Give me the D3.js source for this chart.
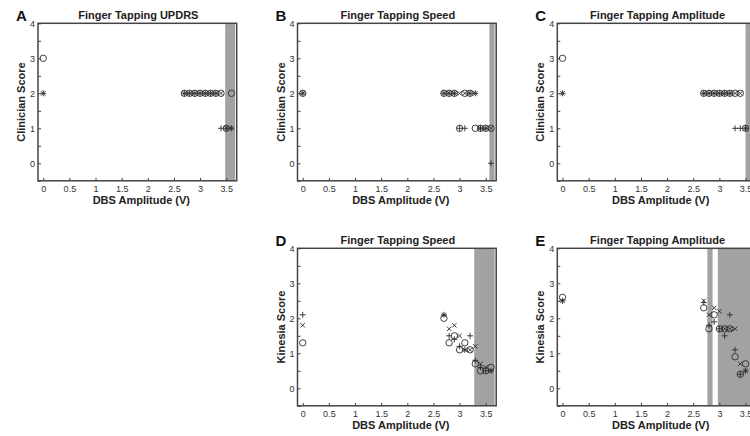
<!DOCTYPE html>
<html>
<head>
<meta charset="utf-8">
<script src="https://cdn.jsdelivr.net/npm/d3@7"></script>
<style>
  body { margin: 0; background: #fff; }
  svg { font-family: "Liberation Sans", Arial, sans-serif; }
</style>
</head>
<body>
<div id="chart"></div>
<script>
var svgWidth = 750;
var svgHeight = 436;

// DBS amplitudes tested (V)
var amps = [0, 2.7, 2.8, 2.9, 3.0, 3.1, 3.2, 3.3, 3.4, 3.5, 3.6];
var ampsClipped = [0, 2.7, 2.8, 2.9, 3.0, 3.1, 3.2, 3.3, 3.4, 3.5];

// A - clinician, finger tapping UPDRS
var updrsCircle = [3, 2, 2, 2, 2, 2, 2, 2, 2, 1, 2];
var updrsPlus   = [2, 2, 2, 2, 2, 2, 2, 2, 1, 1, 1];
var updrsCross  = [2, 2, 2, 2, 2, 2, 2, 2, 2, 1, 1];

// B - clinician, finger tapping speed
var clinSpeedCircle = [2, 2, 2, 2, 1, 2, 2, 1, 1, 1, 1];
var clinSpeedPlus   = [2, 2, 2, 2, 1, 1, 2, 2, 1, 1, 0];
var clinSpeedCross  = [2, 2, 2, 2, 2, 2, 2, 2, 1, 1, 1];

// C - clinician, finger tapping amplitude
var clinAmpCircle = [3, 2, 2, 2, 2, 2, 2, 2, 2, 1];
var clinAmpPlus   = [2, 2, 2, 2, 2, 2, 2, 1, 1, 1];
var clinAmpCross  = [2, 2, 2, 2, 2, 2, 2, 2, 2, 1];

// D - kinesia, finger tapping speed
var kinSpeedCircle = [1.3, 2.0, 1.3, 1.5, 1.1, 1.3, 1.1, 0.7, 0.5, 0.5, 0.6];
var kinSpeedPlus   = [2.1, 2.1, 1.5, 1.4, 1.2, 1.1, 1.5, 0.8, 0.6, 0.5, 0.5];
var kinSpeedCross  = [1.8, 2.1, 1.7, 1.8, 1.5, 1.1, 1.1, 1.2, 0.7, 0.6, 0.5];

// E - kinesia, finger tapping amplitude
var kinAmpCircle = [2.6, 2.3, 1.7, 2.1, 1.7, 1.7, 1.7, 0.9, 0.4, 0.7];
var kinAmpPlus   = [2.5, 2.45, 1.8, 1.9, 1.7, 1.5, 2.1, 1.1, 0.4, 0.5];
var kinAmpCross  = [2.5, 2.5, 2.1, 2.3, 2.2, 1.7, 1.7, 1.7, 0.7, 0.5];

// shaded amplitude ranges (V)
var bandsA = [[3.48, 3.67]];
var bandsB = [[3.57, 3.67]];
var bandsC = [[3.5, 3.67]];
var bandsD = [[3.28, 3.67]];
var bandsE = [[2.77, 2.87], [2.97, 3.67]];

var xTicks = [0, 0.5, 1, 1.5, 2, 2.5, 3, 3.5];
var yTicks = [-0.5, 0, 0.5, 1, 1.5, 2, 2.5, 3, 3.5, 4];
var yLabels = [0, 1, 2, 3, 4];

var plotW = 198.7;
var plotH = 157.5;
var markColor = "#2a2a2a";
var bandColor = "#a2a2a2";

var panels = [
    { letter: "A", title: "Finger Tapping UPDRS", ylabel: "Clinician Score", left: 38, top: 23.3,
      x: amps, circle: updrsCircle, plus: updrsPlus, cross: updrsCross, bands: bandsA },
    { letter: "B", title: "Finger Tapping Speed", ylabel: "Clinician Score", left: 297.5, top: 23.3,
      x: amps, circle: clinSpeedCircle, plus: clinSpeedPlus, cross: clinSpeedCross, bands: bandsB },
    { letter: "C", title: "Finger Tapping Amplitude", ylabel: "Clinician Score", left: 557.3, top: 23.3,
      x: ampsClipped, circle: clinAmpCircle, plus: clinAmpPlus, cross: clinAmpCross, bands: bandsC },
    { letter: "D", title: "Finger Tapping Speed", ylabel: "Kinesia Score", left: 297.5, top: 248.3,
      x: amps, circle: kinSpeedCircle, plus: kinSpeedPlus, cross: kinSpeedCross, bands: bandsD },
    { letter: "E", title: "Finger Tapping Amplitude", ylabel: "Kinesia Score", left: 557.3, top: 248.3,
      x: ampsClipped, circle: kinAmpCircle, plus: kinAmpPlus, cross: kinAmpCross, bands: bandsE }
];

var svg = d3.select("#chart")
    .append("svg")
    .attr("width", svgWidth)
    .attr("height", svgHeight);

panels.forEach(function(p) {
    var g = svg.append("g")
        .attr("transform", `translate(${p.left}, ${p.top})`);

    var xScale = d3.scaleLinear().domain([-0.1, 3.7]).range([0, plotW]);
    var yScale = d3.scaleLinear().domain([-0.5, 4]).range([plotH, 0]);

    // shaded bands
    g.selectAll("rect.band")
        .data(p.bands)
        .enter()
        .append("rect")
        .attr("class", "band")
        .attr("x", d => xScale(d[0]))
        .attr("width", d => xScale(d[1]) - xScale(d[0]))
        .attr("y", 0)
        .attr("height", plotH)
        .attr("fill", bandColor);

    // axes, ticks pointing inward
    var bottomAxis = d3.axisBottom(xScale)
        .tickValues(xTicks)
        .tickSize(-3)
        .tickPadding(5)
        .tickFormat(d3.format("~g"));
    var xAxis = g.append("g")
        .attr("transform", `translate(0, ${plotH})`)
        .call(bottomAxis);

    var leftAxis = d3.axisLeft(yScale)
        .tickValues(yTicks)
        .tickSize(-3)
        .tickPadding(3)
        .tickFormat(d => yLabels.indexOf(d) >= 0 ? d : "");
    var yAxis = g.append("g").call(leftAxis);

    [xAxis, yAxis].forEach(function(ax) {
        ax.select(".domain").remove();
        ax.selectAll("line").attr("stroke", "#444").attr("stroke-width", 1);
        ax.selectAll("text")
            .attr("fill", "#333")
            .style("font-size", "9px");
    });

    // frame
    g.append("rect")
        .attr("x", 0)
        .attr("y", 0)
        .attr("width", plotW)
        .attr("height", plotH)
        .attr("fill", "none")
        .attr("stroke", "#444")
        .attr("stroke-width", 1.5);

    var pts = function(vals) {
        return p.x.map((a, i) => ({ a: a, v: vals[i] })).filter(d => d.v != null);
    };

    // circles
    g.selectAll("circle.mk")
        .data(pts(p.circle))
        .enter()
        .append("circle")
        .attr("class", "mk")
        .attr("cx", d => xScale(d.a))
        .attr("cy", d => yScale(d.v))
        .attr("r", 3.2)
        .attr("fill", "none")
        .attr("stroke", markColor)
        .attr("stroke-width", 0.9);

    // plus
    g.selectAll("path.plus")
        .data(pts(p.plus))
        .enter()
        .append("path")
        .attr("class", "plus")
        .attr("d", d => {
            var cx = xScale(d.a), cy = yScale(d.v);
            return `M${cx - 3},${cy}h6M${cx},${cy - 3}v6`;
        })
        .attr("stroke", markColor)
        .attr("stroke-width", 0.9);

    // cross
    g.selectAll("path.cross")
        .data(pts(p.cross))
        .enter()
        .append("path")
        .attr("class", "cross")
        .attr("d", d => {
            var cx = xScale(d.a), cy = yScale(d.v);
            return `M${cx - 2.2},${cy - 2.2}l4.4,4.4M${cx - 2.2},${cy + 2.2}l4.4,-4.4`;
        })
        .attr("stroke", markColor)
        .attr("stroke-width", 0.9);

    // titles and labels
    g.append("text")
        .attr("x", plotW / 2 + 1)
        .attr("y", -4)
        .attr("text-anchor", "middle")
        .style("font-size", "11px")
        .style("font-weight", "bold")
        .attr("fill", "#222")
        .text(p.title);

    g.append("text")
        .attr("x", -22)
        .attr("y", -2.5)
        .style("font-size", "15px")
        .style("font-weight", "bold")
        .attr("fill", "#111")
        .text(p.letter);

    g.append("text")
        .attr("transform", "rotate(-90)")
        .attr("x", -plotH / 2)
        .attr("y", -13)
        .attr("text-anchor", "middle")
        .style("font-size", "11px")
        .style("font-weight", "bold")
        .attr("fill", "#222")
        .text(p.ylabel);

    g.append("text")
        .attr("x", plotW / 2 + 4)
        .attr("y", plotH + 23)
        .attr("text-anchor", "middle")
        .style("font-size", "11px")
        .style("font-weight", "bold")
        .attr("fill", "#222")
        .text("DBS Amplitude (V)");
});
</script>
</body>
</html>
